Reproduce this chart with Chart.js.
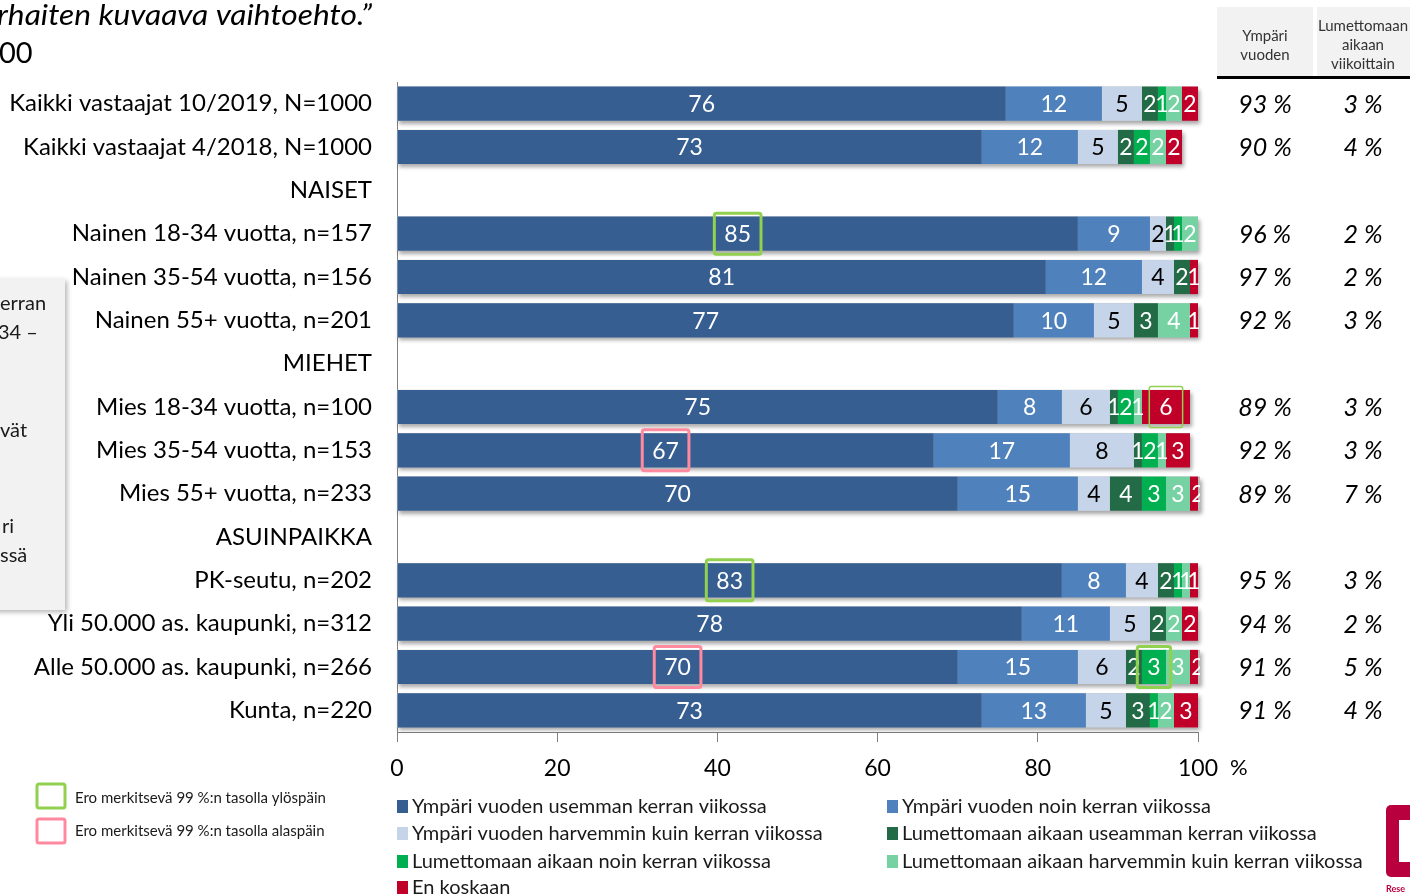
<!DOCTYPE html>
<html>
<head>
<meta charset="utf-8">
<script src="https://cdn.jsdelivr.net/npm/chart.js@4"></script>
<style>
  body { margin: 0; background: #fff; }
  canvas { display: block; }
</style>
</head>
<body>
<canvas id="myChart" width="1410" height="896"></canvas>
<script>
const labels = [
  'Kaikki vastaajat 10/2019, N=1000',
  'Kaikki vastaajat 4/2018, N=1000',
  'NAISET',
  'Nainen 18-34 vuotta, n=157',
  'Nainen 35-54 vuotta, n=156',
  'Nainen 55+ vuotta, n=201',
  'MIEHET',
  'Mies 18-34 vuotta, n=100',
  'Mies 35-54 vuotta, n=153',
  'Mies 55+ vuotta, n=233',
  'ASUINPAIKKA',
  'PK-seutu, n=202',
  'Yli 50.000 as. kaupunki, n=312',
  'Alle 50.000 as. kaupunki, n=266',
  'Kunta, n=220',
];

const seriesNames = [
  'Ympäri vuoden usemman kerran viikossa',
  'Ympäri vuoden noin kerran viikossa',
  'Ympäri vuoden harvemmin kuin kerran viikossa',
  'Lumettomaan aikaan useamman kerran viikossa',
  'Lumettomaan aikaan noin kerran viikossa',
  'Lumettomaan aikaan harvemmin kuin kerran viikossa',
  'En koskaan',
];

const ympariUsein = [76, 73, null, 85, 81, 77, null, 75, 67, 70, null, 83, 78, 70, 73];
const ympariKerran = [12, 12, null, 9, 12, 10, null, 8, 17, 15, null, 8, 11, 15, 13];
const ympariHarvemmin = [5, 5, null, 2, 4, 5, null, 6, 8, 4, null, 4, 5, 6, 5];
const lumetonUsein = [2, 2, null, 1, 2, 3, null, 1, 1, 4, null, 2, 2, 2, 3];
const lumetonKerran = [1, 2, null, 1, 0, 0, null, 2, 2, 3, null, 1, 0, 3, 1];
const lumetonHarvemmin = [2, 2, null, 2, 0, 4, null, 1, 1, 3, null, 1, 2, 3, 2];
const enKoskaan = [2, 2, null, 0, 1, 1, null, 6, 3, 2, null, 1, 2, 2, 3];

// right hand table
const yhtYmpari = [93, 90, null, 96, 97, 92, null, 89, 92, 89, null, 95, 94, 91, 91];
const yhtLumeton = [3, 4, null, 2, 2, 3, null, 3, 3, 7, null, 3, 2, 5, 4];

// significance marks: [row, series]
const sigUp = [[3, 0], [7, 6], [11, 0], [13, 4]];
const sigDown = [[8, 0], [13, 0]];

const xTicks = [0, 20, 40, 60, 80, 100];

const colors = ['#365e91', '#4f81bd', '#c5d4e8', '#236a46', '#00b050', '#76d2a3', '#c00028'];
const labelColors = ['#fff', '#fff', '#000', '#fff', '#fff', '#fff', '#fff'];
const allSeries = [ympariUsein, ympariKerran, ympariHarvemmin, lumetonUsein, lumetonKerran, lumetonHarvemmin, enKoskaan];

const datasets = allSeries.map((d, i) => ({
  label: seriesNames[i],
  data: d,
  backgroundColor: colors[i],
  borderWidth: 0,
  barPercentage: 0.79,
  categoryPercentage: 1,
}));

const FONT = 'Lato, Carlito, "Open Sans", sans-serif';

const barShadow = {
  id: 'barShadow',
  beforeDatasetsDraw(chart) {
    const { ctx, chartArea } = chart;
    const x = chart.scales.x;
    const meta = chart.getDatasetMeta(0);
    ctx.save();
    meta.data.forEach((bar, i) => {
      if (allSeries[0][i] == null) return;
      let sum = 0;
      allSeries.forEach((s) => (sum += s[i] || 0));
      const left = x.getPixelForValue(0);
      const right = Math.min(x.getPixelForValue(sum), chartArea.right + 2);
      const h = bar.height;
      ctx.shadowColor = 'rgba(0,0,0,0.35)';
      ctx.shadowBlur = 4;
      ctx.shadowOffsetX = 2;
      ctx.shadowOffsetY = 3;
      ctx.fillStyle = '#bbb';
      ctx.fillRect(left, bar.y - h / 2, right - left, h);
    });
    ctx.restore();
  },
};

const barLabels = {
  id: 'barLabels',
  afterDatasetsDraw(chart) {
    const { ctx, chartArea } = chart;
    ctx.save();
    ctx.beginPath();
    ctx.rect(chartArea.left, chartArea.top - 5, chartArea.right - chartArea.left + 2, chartArea.bottom - chartArea.top + 10);
    ctx.clip();
    ctx.font = '23px ' + FONT;
    ctx.textAlign = 'center';
    ctx.textBaseline = 'middle';
    chart.data.datasets.forEach((ds, di) => {
      chart.getDatasetMeta(di).data.forEach((bar, i) => {
        const v = ds.data[i];
        if (!v) return;
        const p = bar.getCenterPoint();
        ctx.fillStyle = labelColors[di];
        ctx.fillText(String(v), p.x, p.y + 1);
      });
    });
    ctx.restore();

    // significance boxes
    const box = (list, color) => {
      list.forEach(([row, di]) => {
        const bar = chart.getDatasetMeta(di).data[row];
        const p = bar.getCenterPoint();
        const txt = String(chart.data.datasets[di].data[row]);
        ctx.font = '23px ' + FONT;
        const w = ctx.measureText(txt).width + 20;
        const h = 41;
        ctx.strokeStyle = color;
        ctx.lineWidth = (row === 7 && di === 6) ? 1.5 : 3;
        ctx.beginPath();
        ctx.roundRect(p.x - w / 2, p.y - h / 2, w, h, 2);
        ctx.stroke();
      });
    };
    ctx.save();
    box(sigUp, '#92d050');
    box(sigDown, '#ff8aa0');
    ctx.restore();
  },
};

const overlay = {
  id: 'overlay',
  beforeDraw(chart) {
    const { ctx } = chart;
    ctx.save();
    // cut off info box at the left
    ctx.shadowColor = 'rgba(0,0,0,0.3)';
    ctx.shadowBlur = 5;
    ctx.shadowOffsetX = 2;
    ctx.shadowOffsetY = 2;
    ctx.fillStyle = '#f2f2f2';
    ctx.fillRect(-10, 279, 75, 331);
    ctx.shadowColor = 'transparent';
    ctx.fillStyle = '#1a1a1a';
    ctx.font = '20px ' + FONT;
    ctx.textAlign = 'left';
    ctx.textBaseline = 'alphabetic';
    ctx.fillText('erran', 0, 310);
    ctx.fillText('34 –', -2, 339);
    ctx.fillText('vät', 0, 437);
    ctx.fillText('ri', 2, 533);
    ctx.fillText('ssä', 0, 562);
    ctx.restore();
  },
  afterDraw(chart) {
    const { ctx } = chart;
    const x = chart.scales.x;
    const y = chart.scales.y;
    ctx.save();

    // title fragment, stretched to the slide's width
    ctx.fillStyle = '#000';
    ctx.textAlign = 'left';
    ctx.textBaseline = 'alphabetic';
    ctx.font = 'italic 29px ' + FONT;
    const title = 'rhaiten kuvaava vaihtoehto.”';
    const tw = ctx.measureText(title).width;
    ctx.save();
    ctx.translate(-3, 25);
    ctx.scale(375 / tw, 1);
    ctx.fillText(title, 0, 0);
    ctx.restore();
    ctx.font = '29px ' + FONT;
    ctx.fillText('00', -1, 63);

    // % after axis
    ctx.font = '22px ' + FONT;
    ctx.textBaseline = 'middle';
    ctx.fillText('%', x.getPixelForValue(100) + 32, 768);

    // right table header
    ctx.fillStyle = '#f2f2f2';
    ctx.fillRect(1217, 7, 96, 70);
    ctx.fillRect(1317, 7, 96, 70);
    ctx.fillStyle = '#000';
    ctx.fillRect(1217, 76, 196, 3);
    ctx.fillStyle = '#333';
    ctx.font = '15px ' + FONT;
    ctx.textAlign = 'center';
    ctx.fillText('Ympäri', 1265, 36);
    ctx.fillText('vuoden', 1265, 55);
    ctx.fillText('Lumettomaan', 1363, 26);
    ctx.fillText('aikaan', 1363, 45);
    ctx.fillText('viikoittain', 1363, 64);

    // right table values
    ctx.fillStyle = '#000';
    ctx.font = 'italic 25px ' + FONT;
    labels.forEach((l, i) => {
      const py = y.getPixelForValue(i) + 1;
      if (yhtYmpari[i] != null) ctx.fillText(yhtYmpari[i] + ' %', 1265, py);
      if (yhtLumeton[i] != null) ctx.fillText(yhtLumeton[i] + ' %', 1363, py);
    });

    // series legend
    ctx.textAlign = 'left';
    ctx.font = '20px ' + FONT;
    const colX = [397, 887];
    const rowY = [806, 833, 861, 887];
    chart.data.datasets.forEach((ds, i) => {
      const lx = colX[i % 2];
      const ly = rowY[Math.floor(i / 2)];
      ctx.fillStyle = ds.backgroundColor;
      ctx.fillRect(lx, ly - 6, 11, 13);
      ctx.fillStyle = '#1a1a1a';
      ctx.fillText(ds.label, lx + 15, ly + 1);
    });

    // significance legend
    ctx.lineWidth = 3;
    ctx.strokeStyle = '#92d050';
    ctx.beginPath();
    ctx.roundRect(37, 784, 28, 24, 2);
    ctx.stroke();
    ctx.strokeStyle = '#ff8aa0';
    ctx.beginPath();
    ctx.roundRect(37, 819, 28, 24, 2);
    ctx.stroke();
    ctx.fillStyle = '#1a1a1a';
    ctx.font = '15px ' + FONT;
    ctx.fillText('Ero merkitsevä 99 %:n tasolla ylöspäin', 75, 798);
    ctx.fillText('Ero merkitsevä 99 %:n tasolla alaspäin', 75, 831);

    // logo corner
    ctx.fillStyle = '#b9003e';
    ctx.beginPath();
    ctx.roundRect(1386, 805, 40, 72, 5);
    ctx.fill();
    ctx.fillStyle = '#fff';
    ctx.fillRect(1399, 820, 14, 42);
    ctx.fillStyle = '#b9003e';
    ctx.font = 'bold 9px ' + FONT;
    ctx.fillText('Rese', 1386, 889);

    ctx.restore();
  },
};

const config = {
  type: 'bar',
  data: { labels: labels, datasets: datasets },
  options: {
    indexAxis: 'y',
    responsive: false,
    animation: false,
    layout: { padding: { left: 0, top: 82, right: 212, bottom: 114 } },
    plugins: { legend: { display: false }, tooltip: { enabled: false } },
    scales: {
      x: {
        stacked: true,
        min: 0,
        max: 100,
        afterBuildTicks: (s) => { s.ticks = xTicks.map((v) => ({ value: v })); },
        ticks: { color: '#000', font: { family: FONT, size: 23 }, padding: 13, maxRotation: 0 },
        grid: { drawOnChartArea: false, drawTicks: true, tickLength: 10, color: '#808080' },
        border: { color: '#808080', width: 1 },
        afterFit: (s) => { s.height = 50; },
      },
      y: {
        stacked: true,
        ticks: { color: '#000', font: { family: FONT, size: 24 }, padding: 25, autoSkip: false },
        grid: { display: false, drawTicks: false },
        border: { color: '#808080', width: 1 },
        afterFit: (s) => { s.width = 397; },
      },
    },
  },
  plugins: [overlay, barShadow, barLabels],
};

const myChart = new Chart(document.getElementById('myChart'), config);
</script>
</body>
</html>
